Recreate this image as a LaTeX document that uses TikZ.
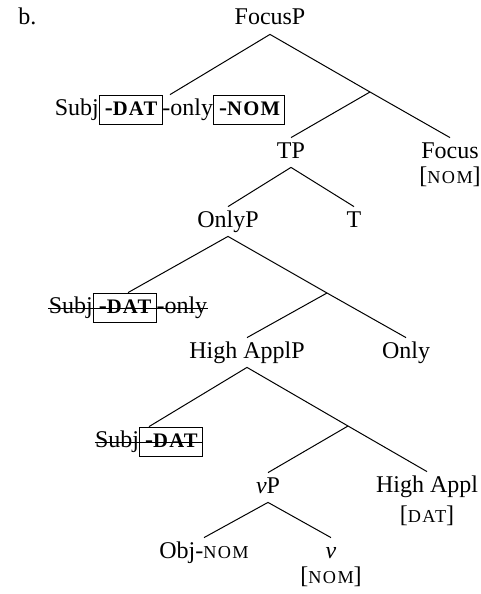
\documentclass[tikz,border=0pt]{standalone}
\usepackage{fontspec}
\setmainfont{Liberation Serif}
\newfontfamily\scfont[LetterSpace=8,Scale=0.76]{Liberation Serif}
\newfontfamily\scbfont[LetterSpace=6,Scale=0.86]{Liberation Serif}
\usepackage{tikz}
\newcommand{\feat}[1]{{\scfont #1}}
\newcommand{\casebox}[1]{{\setlength{\fboxsep}{1.6pt}\fbox{\rule[-3pt]{0pt}{11pt}\kern1pt{\bfseries -\scbfont #1}\kern0.6pt}}}

\begin{document}
\begin{tikzpicture}[x=0.5pt,y=-0.5pt,font=\fontsize{12pt}{14pt}\selectfont]
\tikzset{cat/.style = {anchor=base,inner xsep=0pt,inner ysep=1pt,text height=9pt,text depth=3.5pt}}
\tikzset{branch/.style = {line width=0.5pt}}
\useasboundingbox (0,0) rectangle (481,594);
\node[cat,anchor=base west] (ex) at (18,25) {b.};
\node[cat] (focusp) at (270,25) {FocusP};
\node[cat] (subjhi) at (170,115) {Subj\casebox{DAT}-only\casebox{NOM}};
\coordinate (focusbar) at (370,92);
\node[cat] (tp) at (291,158) {TP};
\node[cat] (focus) at (450,158) {Focus};
\node[cat] (focusf) at (450,183) {[\feat{NOM}]};
\node[cat] (onlyp) at (228,227) {OnlyP};
\node[cat] (t) at (354,227) {T};
\node[cat] (subjmid) at (128,313) {Subj\casebox{DAT}-only};
\coordinate (onlybar) at (327,293);
\node[cat] (highapplp) at (247,358) {High ApplP};
\node[cat] (only) at (406,358) {Only};
\node[cat] (subjlo) at (149,447) {Subj\casebox{DAT}};
\coordinate (applbar) at (348,426);
\node[cat] (vp) at (268,493) {\textit{v}P};
\node[cat] (highappl) at (427,492) {High Appl};
\node[cat] (highapplf) at (427,522) {[\feat{DAT}]};
\node[cat] (objnom) at (204,558) {Obj-\feat{NOM}};
\node[cat] (v) at (331,558) {\textit{v}};
\node[cat] (vf) at (331,583) {[\feat{NOM}]};
% branches
\draw[branch] (focusp.south) -- (subjhi.north);
\draw[branch] (focusp.south) -- (focusbar) -- (focus.north);
\draw[branch] (focusbar) -- (tp.north);
\draw[branch] (tp.south) -- (onlyp.north);
\draw[branch] (tp.south) -- (t.north);
\draw[branch] (onlyp.south) -- (subjmid.north);
\draw[branch] (onlyp.south) -- (onlybar) -- (only.north);
\draw[branch] (onlybar) -- (highapplp.north);
\draw[branch] (highapplp.south) -- (subjlo.north);
\draw[branch] (highapplp.south) -- (applbar) -- (highappl.north);
\draw[branch] (applbar) -- (vp.north);
\draw[branch] (vp.south) -- (objnom.north);
\draw[branch] (vp.south) -- (v.north);
% deleted copies
\draw[branch] ([yshift=2.5pt]subjmid.base west) -- ([yshift=2.5pt]subjmid.base east);
\draw[branch] ([yshift=2.5pt]subjlo.base west) -- ([yshift=2.5pt]subjlo.base east);
\end{tikzpicture}
\end{document}
